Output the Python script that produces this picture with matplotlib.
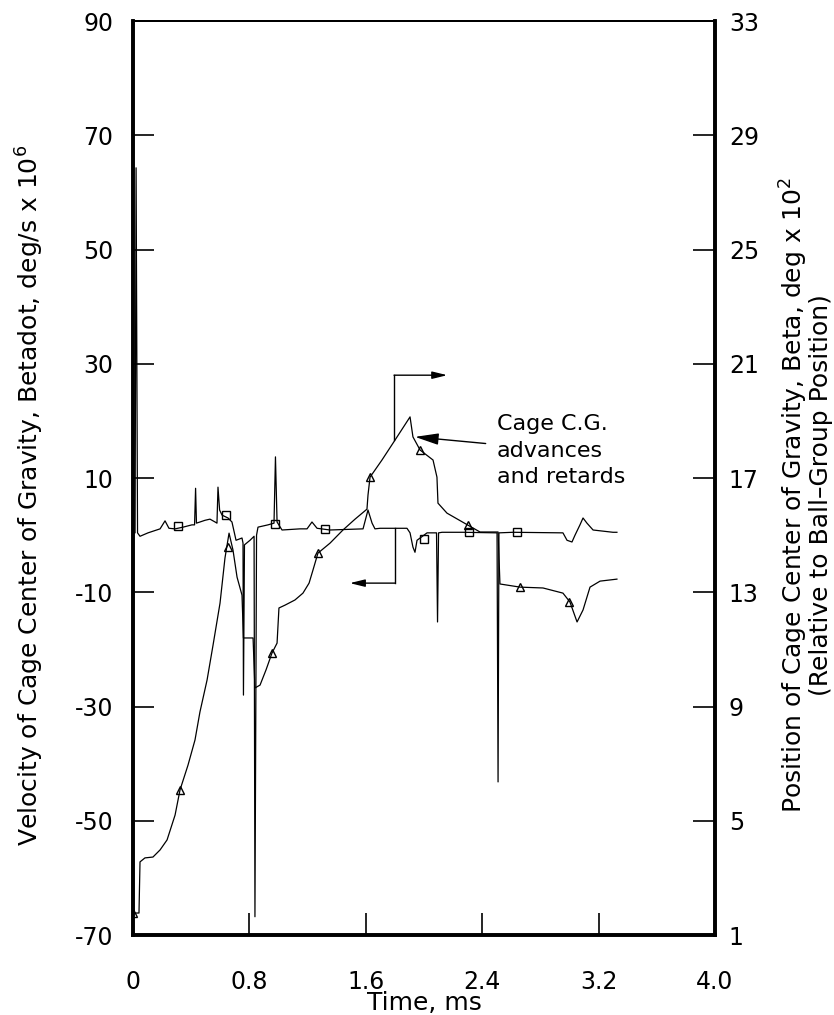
import matplotlib
matplotlib.use("Agg")
import matplotlib.pyplot as plt

plt.rcParams['font.family'] = ['DejaVu Sans']
plt.rcParams['axes.unicode_minus'] = False

# ---- data ----
# Velocity of cage C.G., Betadot (left axis, deg/s x 10^6)
vel_t = [0.000, 0.014, 0.021, 0.031, 0.048, 0.103, 0.186, 0.220, 0.247, 0.289,
         0.344, 0.405, 0.423, 0.430, 0.436, 0.460, 0.495, 0.529, 0.564, 0.577,
         0.584, 0.595, 0.612, 0.653, 0.680, 0.708, 0.749, 0.756, 0.759, 0.766,
         0.804, 0.832, 0.838, 0.849, 0.859, 0.928, 0.969, 0.979, 0.990, 1.024,
         1.148, 1.196, 1.230, 1.265, 1.354, 1.581, 1.615, 1.643, 1.663, 1.698,
         1.883, 1.904, 1.924, 1.938, 1.952, 2.021, 2.086, 2.093, 2.100, 2.124,
         2.268, 2.502, 2.509, 2.515, 2.612, 2.955, 2.983, 3.017, 3.038, 3.072,
         3.093, 3.120, 3.162, 3.299, 3.326]
vel_v = [0.4, 0.4, 64.3, 0.4, -0.2, 0.4, 1.1, 2.5, 1.2, 1.1,
         1.4, 1.8, 1.8, 8.2, 2.1, 2.3, 2.6, 2.8, 2.3, 2.1,
         8.4, 4.4, 3.5, 3.0, 2.3, -0.9, -0.5, -1.4, -28.0, -1.7,
         -0.9, -0.2, -66.8, 0.0, 1.4, 1.8, 2.1, 13.7, 2.3, 0.9,
         1.1, 1.1, 2.3, 1.2, 0.9, 1.1, 4.4, 2.1, 1.1, 1.2,
         1.2, 0.4, -2.1, -3.0, -0.9, 0.4, 0.4, -15.2, 0.4, 0.5,
         0.5, 0.4, -43.2, 0.4, 0.5, 0.4, -0.9, -1.2, 0.0, 1.8,
         3.0, 2.1, 0.9, 0.5, 0.5]

# Position of cage C.G., Beta (right axis, deg x 10^2)
pos_t = [0.000, 0.041, 0.048, 0.082, 0.137, 0.186, 0.234, 0.289, 0.323, 0.378,
         0.426, 0.460, 0.509, 0.550, 0.598, 0.632, 0.660, 0.687, 0.715, 0.749,
         0.759, 0.825, 0.838, 0.873, 0.914, 0.955, 0.990, 1.003, 1.045, 1.113,
         1.168, 1.210, 1.237, 1.271, 1.354, 1.443, 1.526, 1.608, 1.615, 1.629,
         1.711, 1.801, 1.904, 1.924, 1.973, 2.062, 2.089, 2.096, 2.158, 2.302,
         2.385, 2.509, 2.522, 2.660, 2.818, 2.955, 3.003, 3.052, 3.093, 3.141,
         3.210, 3.326]
pos_p = [1.77, 1.77, 3.56, 3.70, 3.73, 3.98, 4.33, 5.20, 6.08, 6.95,
         7.83, 8.81, 9.93, 11.15, 12.62, 14.20, 15.07, 14.48, 13.53, 12.90,
         11.40, 11.40, 9.65, 9.75, 10.28, 10.87, 11.22, 12.45, 12.55, 12.73,
         12.97, 13.32, 13.78, 14.37, 14.72, 15.18, 15.56, 15.91, 16.40, 17.03,
         17.63, 18.33, 19.14, 18.44, 17.98, 17.63, 17.03, 16.12, 15.77, 15.35,
         15.11, 15.11, 13.29, 13.18, 13.15, 12.97, 12.66, 11.96, 12.38, 13.18,
         13.39, 13.46]

# plotter symbols along the traces
vel_mark_t = [0.31, 0.64, 0.975, 1.32, 2.00, 2.31, 2.64]
vel_mark_v = [1.6, 3.6, 2.0, 1.0, -0.6, 0.6, 0.6]
pos_mark_t = [0.00, 0.32, 0.65, 0.955, 1.271, 1.629, 1.973, 2.302, 2.66, 3.00]
pos_mark_p = [1.77, 6.08, 14.6, 10.87, 14.37, 17.03, 17.98, 15.35, 13.18, 12.66]

x_ticks = [0, 0.8, 1.6, 2.4, 3.2, 4.0]
x_ticklabels = ['0', '0.8', '1.6', '2.4', '3.2', '4.0']
left_ticks = [-70, -50, -30, -10, 10, 30, 50, 70, 90]
right_ticks = [1, 5, 9, 13, 17, 21, 25, 29, 33]

TFS = 17    # tick labels
LFS = 18    # axis titles
AFS = 16    # annotation

fig = plt.figure(figsize=(8.34, 10.15), dpi=100)
ax = fig.add_axes([0.1595, 0.0788, 0.6978, 0.9005])
ax2 = ax.twinx()

ax.plot(vel_t, vel_v, color='black', lw=0.9)
ax.plot(vel_mark_t, vel_mark_v, ls='none', marker='s', ms=5.5, mfc='none',
        mec='black', mew=1.0)
ax2.plot(pos_t, pos_p, color='black', lw=0.9)
ax2.plot(pos_mark_t, pos_mark_p, ls='none', marker='^', ms=6, mfc='none',
         mec='black', mew=1.0)

ax.set_xlim(0, 4.0)
ax.set_ylim(-70, 90)
ax2.set_ylim(1, 33)
ax.set_xticks(x_ticks)
ax.set_xticklabels(x_ticklabels)
ax.set_yticks(left_ticks)
ax2.set_yticks(right_ticks)

for a in (ax, ax2):
    for side, w in (('left', 2.6), ('bottom', 2.6), ('right', 2.6), ('top', 1.4)):
        a.spines[side].set_linewidth(w)

ax.tick_params(axis='x', direction='in', length=16, width=1.2, pad=25, labelsize=TFS)
ax.tick_params(axis='y', direction='in', length=15, width=1.2, pad=14, labelsize=TFS)
ax2.tick_params(axis='y', direction='in', length=16, width=1.2, pad=10, labelsize=TFS)

fig.text(424 / 834, 1 - 1003 / 1015, 'Time, ms', ha='center', va='center',
         fontsize=LFS)

fig.text(30 / 834, 0.512,
         'Velocity of Cage Center of Gravity, Betadot, deg/s x 10$^6$',
         rotation=90, ha='center', va='center', fontsize=LFS)
fig.text(794 / 834, 0.512,
         'Position of Cage Center of Gravity, Beta, deg x 10$^2$',
         rotation=90, ha='center', va='center', fontsize=LFS)
fig.text(821 / 834, 0.512,
         '(Relative to Ball\u2013Group Position)',
         rotation=90, ha='center', va='center', fontsize=LFS)

# annotation text and pointer
ax.annotate('Cage C.G.\nadvances\nand retards', xy=(1.938, 17.2),
            xytext=(2.50, 14.8), textcoords='data', fontsize=AFS,
            ha='left', va='center', linespacing=1.4,
            arrowprops=dict(arrowstyle='-|>,head_length=0.9,head_width=0.22',
                            color='black', lw=1.0, shrinkA=6, shrinkB=0))

# right-pointing arrow (position curve -> right axis)
ax.plot([1.794, 1.794], [16.6, 28.0], color='black', lw=1.0)
ax.annotate('', xy=(2.16, 28.0), xytext=(1.794, 28.0),
            arrowprops=dict(arrowstyle='-|>,head_length=0.9,head_width=0.22',
                            color='black', lw=1.0, shrinkA=0, shrinkB=0))
# left-pointing arrow (velocity curve -> left axis)
ax.plot([1.80, 1.80], [1.2, -8.4], color='black', lw=1.0)
ax.annotate('', xy=(1.49, -8.4), xytext=(1.80, -8.4),
            arrowprops=dict(arrowstyle='-|>,head_length=0.9,head_width=0.22',
                            color='black', lw=1.0, shrinkA=0, shrinkB=0))

fig.savefig('out.png', dpi=100)
